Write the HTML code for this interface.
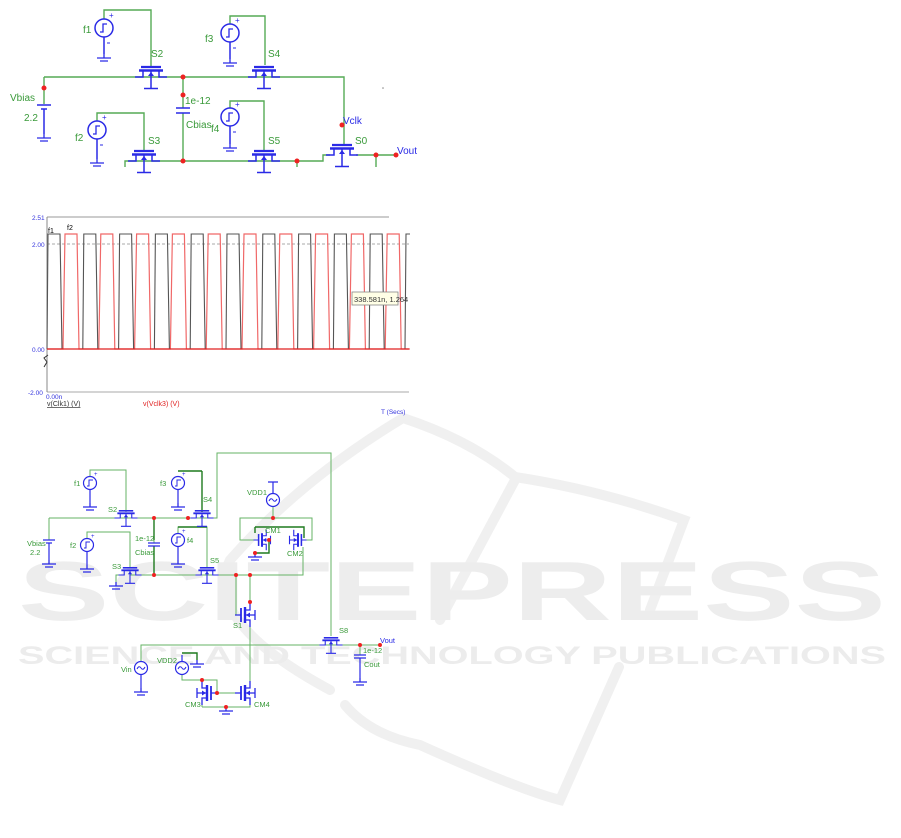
<!DOCTYPE html>
<html><head><meta charset="utf-8"><style>
html,body{margin:0;padding:0;background:#fff;}
svg{display:block;}
text{font-family:"Liberation Sans",sans-serif;}
</style></head><body>
<svg width="901" height="838" viewBox="0 0 901 838" xmlns="http://www.w3.org/2000/svg">
<defs>
<g id="nm">
 <path d="M-10,-10H10" stroke="#2a2ae6" stroke-width="2.2"/>
 <path d="M-12,-6.5H12" stroke="#2a2ae6" stroke-width="2.5"/>
 <path d="M-8,-6V0H-16 M8,-6V0H16 M0,-6V11 M-7,11.5H7" stroke="#2a2ae6" stroke-width="1.5" fill="none"/>
 <path d="M-3,-1L0,-5L3,-1Z" fill="#2a2ae6"/>
</g>
<g id="vm">
 <path d="M-4,-7V7" stroke="#2a2ae6" stroke-width="1.8"/>
 <path d="M0,-8V8" stroke="#2a2ae6" stroke-width="2.4"/>
 <path d="M0,-5H5V-12 M0,5H5V12 M-4,0H-10 M0,0H10 M10,-5V5" stroke="#2a2ae6" stroke-width="1.3" fill="none"/>
 <path d="M1,0L5,-2.5V2.5Z" fill="#2a2ae6"/>
</g>
<g id="gnd"><path d="M0,0V4 M-7,4H7 M-4,7H4" stroke="#2a2ae6" stroke-width="1.3" fill="none"/></g>
<g id="src">
 <circle r="9" fill="none" stroke="#2a2ae6" stroke-width="1.5"/>
 <path d="M-4,4H-1V-4H3" stroke="#2a2ae6" stroke-width="1.3" fill="none"/>
 <text x="5" y="-10" font-size="8" fill="#2a2ae6">+</text>
 <path d="M3,15H6" stroke="#2a2ae6" stroke-width="1"/>
</g>
<g id="ssrc">
 <circle r="6.5" fill="none" stroke="#2a2ae6" stroke-width="1.2"/>
 <path d="M-3,3H-1V-3H3" stroke="#2a2ae6" stroke-width="1" fill="none"/>
 <text x="4" y="-7" font-size="6" fill="#2a2ae6">+</text>
</g>
<g id="asrc">
 <circle r="6.5" fill="none" stroke="#2a2ae6" stroke-width="1.2"/>
 <path d="M-4,1Q-2,-3 0,0T4,-1" stroke="#2a2ae6" stroke-width="1" fill="none"/>
</g>
</defs>

<!-- watermark -->
<g fill="none" stroke="#f0f0f0" stroke-width="10" stroke-linecap="round">
 <path d="M403,418 Q470,440 515,477 Q600,490 684,520 L650,610"/>
 <path d="M515,480 L440,620"/>
 <path d="M403,418 Q300,480 230,560 Q200,620 330,690"/>
 <path d="M345,705 Q370,735 420,745 Q520,790 560,800 L619,667"/>
</g>
<text x="18" y="620" font-size="84" font-weight="bold" fill="#ededed" textLength="868" lengthAdjust="spacingAndGlyphs">SCITEPRESS</text>
<text x="18" y="664" font-size="25" font-weight="bold" fill="#ececec" textLength="868" lengthAdjust="spacingAndGlyphs">SCIENCE AND TECHNOLOGY PUBLICATIONS</text>

<!-- ===== TOP CIRCUIT ===== -->
<g stroke="#55aa55" stroke-width="1.4" fill="none">
 <path d="M104,19V10H151V67"/>
 <path d="M230,24V16H265V65"/>
 <path d="M97,121V113H144V150"/>
 <path d="M230,108V101H264V150"/>
 <path d="M44,77H344V145"/>
 <path d="M44,77V104"/>
 <path d="M183,77V108 M183,113V161"/>
 <path d="M130,161H323V155H330 M356,155H397 M297,161V167 M376,155V167"/>
 <path d="M125,167V161H130"/>
</g>
<g stroke="#2a2ae6" stroke-width="1.5" fill="none">
 <path d="M104,37V54 M230,42V59 M97,139V159 M230,126V144"/>
 <path d="M37,105H51 M41,109H47 M44,109V134"/>
 <path d="M176,108H190 M176,113H190"/>
</g>
<use href="#gnd" x="104" y="54"/><use href="#gnd" x="230" y="59"/><use href="#gnd" x="97" y="159"/><use href="#gnd" x="230" y="144"/><use href="#gnd" x="44" y="134"/>
<use href="#src" x="104" y="28"/><use href="#src" x="230" y="33"/><use href="#src" x="97" y="130"/><use href="#src" x="230" y="117"/>
<use href="#nm" x="151" y="77"/><use href="#nm" x="264" y="77"/><use href="#nm" x="144" y="161"/><use href="#nm" x="264" y="161"/><use href="#nm" x="342" y="155"/>
<g fill="#ee2222">
 <circle cx="183" cy="77" r="2.5"/><circle cx="44" cy="88" r="2.5"/><circle cx="183" cy="95" r="2.5"/><circle cx="183" cy="161" r="2.5"/>
 <circle cx="297" cy="161" r="2.5"/><circle cx="342" cy="125" r="2.5"/><circle cx="376" cy="155" r="2.5"/><circle cx="396" cy="155" r="2.5"/>
</g>
<g font-size="10" fill="#3a9a3a">
 <text x="83" y="33">f1</text><text x="151" y="57">S2</text><text x="205" y="42">f3</text><text x="268" y="57">S4</text>
 <text x="10" y="101">Vbias</text><text x="24" y="121">2.2</text><text x="185" y="104">1e-12</text><text x="186" y="128">Cbias</text>
 <text x="211" y="132">f4</text><text x="75" y="141">f2</text><text x="148" y="144">S3</text><text x="268" y="144">S5</text><text x="355" y="144">S0</text>
</g>
<text x="343" y="124" font-size="10" fill="#2a2ae6">Vclk</text>
<text x="397" y="154" font-size="10" fill="#2a2ae6">Vout</text>
<circle cx="383" cy="88" r="0.8" fill="#888"/>

<!-- ===== PLOT ===== -->
<path d="M47,217H389" stroke="#999" stroke-width="1"/>
<path d="M47,244H409" stroke="#aaa" stroke-width="1" stroke-dasharray="3,2"/>
<path d="M47,392H409" stroke="#aaa" stroke-width="1"/>
<path d="M47,217V392" stroke="#888" stroke-width="1"/>
<path d="M44,367l3,-5l-3,-4l4,-3" stroke="#333" stroke-width="1" fill="none"/>
<svg x="0" y="0" width="410" height="838">
<path d="M47,349 h16 l2,-115 h12 l2,115 h19.8 l2,-115 h12 l2,115 h19.8 l2,-115 h12 l2,115 h19.8 l2,-115 h12 l2,115 h19.8 l2,-115 h12 l2,115 h19.8 l2,-115 h12 l2,115 h19.8 l2,-115 h12 l2,115 h19.8 l2,-115 h12 l2,115 h19.8 l2,-115 h12 l2,115 h19.8 l2,-115 h12 l2,115 h19.8" stroke="#f06868" stroke-width="1.2" fill="none"/>
<path d="M47,349 l1,-115 h12 l2,115 h20.8 l1,-115 h12 l2,115 h20.8 l1,-115 h12 l2,115 h20.8 l1,-115 h12 l2,115 h20.8 l1,-115 h12 l2,115 h20.8 l1,-115 h12 l2,115 h20.8 l1,-115 h12 l2,115 h20.8 l1,-115 h12 l2,115 h20.8 l1,-115 h12 l2,115 h20.8 l1,-115 h12 l2,115 h20.8 l1,-115 h12" stroke="#555" stroke-width="1.1" fill="none"/>
</svg>
<path d="M47,349H409" stroke="#e02020" stroke-width="1.3"/>
<rect x="352" y="292" width="46" height="13" fill="#ffffe6" stroke="#888" stroke-width="0.8"/>
<text x="354" y="302" font-size="7.5" fill="#333">338.581n, 1.264</text>
<g font-size="6.5" fill="#3333dd">
 <text x="32" y="220">2.51</text><text x="32" y="247">2.00</text><text x="32" y="352">0.00</text><text x="28" y="395">-2.00</text>
 <text x="46" y="399">0.00n</text><text x="381" y="414">T (Secs)</text>
</g>
<text x="47" y="406" font-size="7" fill="#333" text-decoration="underline">v(Clk1) (V)</text>
<text x="143" y="406" font-size="7" fill="#e02020">v(Vclk3) (V)</text>
<text x="48" y="233" font-size="7" fill="#000">f1</text><text x="67" y="230" font-size="7" fill="#000">f2</text>

<!-- ===== BOTTOM CIRCUIT ===== -->
<g stroke="#66b366" stroke-width="1" fill="none">
 <path d="M90,477V470H126V512"/>
 <path d="M49,518H217V453H331V636"/>
 <path d="M49,518V540"/>
 <path d="M154,518V543"/>
 <path d="M87,539V532H130V567"/>
 <path d="M178,534V527H207V567"/>
 <path d="M130,575H303V547"/>
 <path d="M273,507V518H312V540H303 M273,518H240V540H255"/>
 <path d="M236,575V615H240 M250,575V608 M250,622V686"/>
 <path d="M141,661V645H380"/>
 <path d="M360,645V655"/>
 <path d="M182,675V680H217V693H240"/>
 <path d="M202,707H250V700 M202,707V700"/>
 <path d="M116,582V575H121"/>
</g>
<g stroke="#1e7a1e" stroke-width="1.4" fill="none">
 <path d="M202,471V512 M178,471H202"/>
 <path d="M154,546V575 M154,518V540"/>
 <path d="M255,527H304V538 M255,527V533"/>
 <path d="M269,540V553H255"/>
 <path d="M182,653H197V660"/>
 <path d="M178,527H207"/>
</g>
<g stroke="#2a2ae6" stroke-width="1.2" fill="none">
 <path d="M90,489V503 M178,489V503 M87,551V565 M178,546V560 M141,675V688 M360,658V678 M49,543V560"/>
 <path d="M43,540H55 M46,543H52 M148,543H160 M148,546H160 M354,655H366 M354,658H366"/>
 <path d="M273,493V482 M268,482H278 M182,661V655"/>
</g>
<use href="#gnd" x="90" y="503"/><use href="#gnd" x="178" y="503"/><use href="#gnd" x="87" y="565"/><use href="#gnd" x="178" y="560"/>
<use href="#gnd" x="49" y="560"/><use href="#gnd" x="141" y="688"/><use href="#gnd" x="360" y="678"/><use href="#gnd" x="226" y="707"/>
<use href="#gnd" x="116" y="582"/><use href="#gnd" x="197" y="660"/><use href="#gnd" x="255" y="553"/>
<use href="#ssrc" x="90" y="483"/><use href="#ssrc" x="178" y="483"/><use href="#ssrc" x="87" y="545"/><use href="#ssrc" x="178" y="540"/>
<use href="#asrc" x="273" y="500"/><use href="#asrc" x="141" y="668"/><use href="#asrc" x="182" y="668"/>
<g transform="translate(126,518) scale(0.72)"><use href="#nm"/></g>
<g transform="translate(202,518) scale(0.72)"><use href="#nm"/></g>
<g transform="translate(130,575) scale(0.72)"><use href="#nm"/></g>
<g transform="translate(207,575) scale(0.72)"><use href="#nm"/></g>
<g transform="translate(331,645) scale(0.72)"><use href="#nm"/></g>
<g transform="translate(262,540) scale(0.85)"><use href="#vm"/></g>
<g transform="translate(298,540) scale(-0.85,0.85)"><use href="#vm"/></g>
<g transform="translate(245,615)"><use href="#vm"/></g>
<g transform="translate(207,693) scale(-1,1)"><use href="#vm"/></g>
<g transform="translate(245,693)"><use href="#vm"/></g>
<g fill="#ee2222">
 <circle cx="154" cy="518" r="2"/><circle cx="188" cy="518" r="2"/><circle cx="154" cy="575" r="2"/><circle cx="273" cy="518" r="2"/>
 <circle cx="269" cy="540" r="2"/><circle cx="255" cy="553" r="2"/><circle cx="236" cy="575" r="2"/><circle cx="250" cy="575" r="2"/>
 <circle cx="250" cy="602" r="2"/><circle cx="360" cy="645" r="2"/><circle cx="380" cy="645" r="2"/><circle cx="202" cy="680" r="2"/>
 <circle cx="217" cy="693" r="2"/><circle cx="226" cy="707" r="2"/>
</g>
<g font-size="7.5" fill="#3a9a3a">
 <text x="74" y="486">f1</text><text x="108" y="512">S2</text><text x="160" y="486">f3</text><text x="203" y="502">S4</text>
 <text x="27" y="546">Vbias</text><text x="30" y="555">2.2</text><text x="135" y="541">1e-12</text><text x="135" y="555">Cbias</text>
 <text x="70" y="548">f2</text><text x="187" y="543">f4</text><text x="112" y="569">S3</text><text x="210" y="563">S5</text>
 <text x="247" y="495">VDD1</text><text x="265" y="533">CM1</text><text x="287" y="556">CM2</text><text x="233" y="628">S1</text>
 <text x="339" y="633">S8</text><text x="363" y="653">1e-12</text><text x="364" y="667">Cout</text>
 <text x="121" y="672">Vin</text><text x="157" y="663">VDD2</text><text x="185" y="707">CM3</text><text x="254" y="707">CM4</text>
</g>
<text x="380" y="643" font-size="7.5" fill="#2a2ae6">Vout</text>
</svg>
</body></html>
